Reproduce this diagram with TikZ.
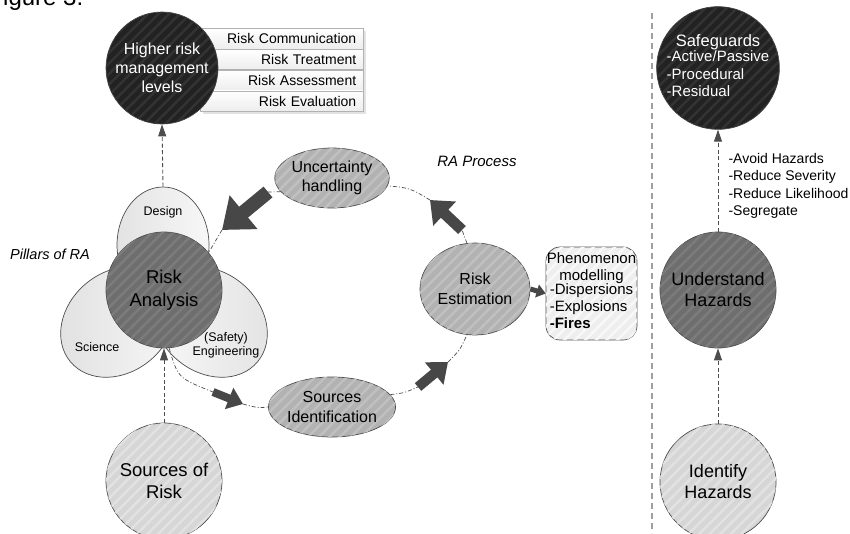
\documentclass[tikz,border=0pt]{standalone}
\usepackage{fontspec}
\setmainfont{Liberation Sans}
\usepackage{tikz}
\usetikzlibrary{arrows.meta,positioning,calc,patterns.meta,shapes.geometric,shadows}
\newcommand{\fsz}[2]{\fontsize{#1}{#2}\selectfont}
\definecolor{hrblack}{HTML}{222222}
\definecolor{hrblackst}{HTML}{333333}
\definecolor{hrdark}{HTML}{6E6E6E}
\definecolor{hrdarkst}{HTML}{7C7C7C}
\definecolor{hrmid}{HTML}{B2B2B2}
\definecolor{hrmidst}{HTML}{C0C0C0}
\definecolor{hrlight}{HTML}{D6D6D6}
\definecolor{hrlightst}{HTML}{E2E2E2}
\definecolor{hrbox}{HTML}{EEEEEE}
\definecolor{hrboxst}{HTML}{F8F8F8}
\definecolor{hrline}{HTML}{4D4D4D}
\definecolor{hrarrow}{HTML}{474747}
\tikzset{
  Hatch/.style={postaction={pattern={Lines[angle=45,distance=7.5pt,line width=2.5pt]},
                pattern color=#1}},
  Bigc/.style={circle, draw=hrline, line width=0.7pt, minimum size=116pt,
               inner sep=0pt, align=center},
  Ell/.style={ellipse, draw=hrline, line width=0.7pt, inner sep=0pt, align=center,
              fill=hrmid, Hatch=hrmidst, font=\fsz{16}{19.5}},
  Petal/.style={ellipse, draw=hrline, line width=0.7pt, inner sep=0pt},
  Row/.style={draw=gray!60, top color=white, bottom color=gray!14,
              minimum width=163pt, minimum height=20.5pt, inner xsep=7pt,
              inner ysep=0pt, text width=149pt, align=right, anchor=north west,
              font=\fsz{14}{16},
              drop shadow={shadow xshift=3pt, shadow yshift=-3pt, fill=gray!45}},
  Vdash/.style={-{Triangle[length=12pt,width=8pt]}, draw=hrline, line width=0.9pt,
                dash pattern=on 4pt off 2.5pt},
  Cyc/.style={draw=hrline, line width=0.7pt, dash pattern=on 4pt off 2pt on 1pt off 2pt},
  Blk/.style n args={3}{draw=hrarrow, line width=#1, -{Triangle[length=#2,width=#3]}}
}

\begin{document}
\begin{tikzpicture}[x=1pt, y=-1pt]
  \useasboundingbox (0,0) rectangle (850,533);
  \clip (0,0) rectangle (850,533);

  \node[anchor=base west, font=\fsz{24}{28}] (figcap) at (-15,5) {Figure 3.};

  % separator
  \draw[gray!75, line width=1.4pt, dash pattern=on 6pt off 4pt] (652,13) -- (652,533);

  % higher risk management levels
  \node[Row] (rcom) at (200,28) {Risk Communication};
  \node[Row, below=0pt of rcom] (rtrt) {Risk Treatment};
  \node[Row, below=0pt of rtrt] (rass) {Risk Assessment};
  \node[Row, below=0pt of rass] (reva) {Risk Evaluation};
  \node[Bigc, minimum size=112pt, fill=hrblack, Hatch=hrblackst, text=white,
        font=\fsz{16}{19}] (hrl) at (162,68) {Higher risk\\management\\levels};

  % pillars of RA
  \node[Petal, minimum width=92pt, minimum height=116pt,
        left color=gray!22, right color=gray!6] (petdes) at (163,245) {};
  \node[Petal, minimum width=124pt, minimum height=100pt, rotate=40,
        left color=gray!24, right color=gray!6] (petsci) at (118,322) {};
  \node[Petal, minimum width=124pt, minimum height=100pt, rotate=-40,
        left color=gray!5, right color=gray!22] (peteng) at (210,322) {};
  \node[font=\fsz{12.5}{15}] (ldes) at (163,212) {Design};
  \node[font=\fsz{12.5}{15}] (lsci) at (97,347) {Science};
  \node[font=\fsz{12.5}{14}, align=center] (leng) at (226,345) {(Safety)\\Engineering};
  \node[Bigc, fill=hrdark, Hatch=hrdarkst, font=\fsz{18.5}{22.5}] (ra) at (164,290)
    {Risk\\Analysis};
  \node[font=\fsz{14.5}{17}\itshape] (pill) at (50,254) {Pillars of RA};

  % RA process
  \node[Ell, minimum width=111pt, minimum height=60pt] (unc) at (332,178)
    {Uncertainty\\handling};
  \node[Ell, minimum width=110pt, minimum height=92pt] (riskest) at (475,289)
    {Risk\\Estimation};
  \node[Ell, minimum width=112pt, minimum height=60pt] (srcid) at (332,407)
    {Sources\\Identification};
  \node[font=\fsz{15}{18}\itshape] (proc) at (477,161) {RA Process};

  \coordinate (a1s) at (213,392); \coordinate (a1e) at (243,404);
  \coordinate (a2s) at (418,387); \coordinate (a2e) at (448,362);
  \coordinate (a3s) at (462,230); \coordinate (a3e) at (430,200);
  \coordinate (a4s) at (268,192); \coordinate (a4e) at (222,230);

  \draw[Cyc] (ra.-85) .. controls (178,378) .. (a1s);
  \draw[Cyc] (a1e) .. controls (258,408) .. (srcid.west);
  \draw[Cyc] (srcid.12) .. controls (404,393) .. (a2s);
  \draw[Cyc] (a2e) .. controls (460,350) .. (riskest.-100);
  \draw[Cyc] (riskest.100) -- (a3s);
  \draw[Cyc] (a3e) .. controls (410,188) .. (unc.-8);
  \draw[Cyc] (unc.195) -- (a4s);
  \draw[Cyc] (a4e) -- (ra.40);

  \draw[Blk={8pt}{15pt}{22pt}] (a1s) -- (a1e);
  \draw[Blk={10pt}{18pt}{28pt}] (a2s) -- (a2e);
  \draw[Blk={11pt}{20pt}{32pt}] (a3s) -- (a3e);
  \draw[Blk={14pt}{28pt}{42pt}] (a4s) -- (a4e);

  \node[draw=hrline, line width=0.7pt, rounded corners=14pt, fill=hrbox, Hatch=hrboxst,
        minimum width=91pt, minimum height=93pt, inner sep=0.5pt, align=center,
        font=\fsz{15}{17}] (phen) at (591.5,293.5)
    {Phenomenon\\modelling\\[-2pt]
     \begin{tabular}{@{}l@{}}-Dispersions\\-Explosions\\\textbf{-Fires}\end{tabular}};
  \draw[Blk={5pt}{9pt}{13pt}] (riskest.east) -- (phen.west);

  % sources of risk
  \node[Bigc, fill=hrlight, Hatch=hrlightst, font=\fsz{18.5}{22}] (srisk) at (164,481)
    {Sources of\\Risk};

  \draw[Vdash] (srisk.north) -- (ra.south);
  \draw[Vdash] (petdes.north) -- (hrl.south);

  % hazards
  \node[Bigc, fill=hrblack, Hatch=hrblackst, text=white] (safe) at (718,68)
    {{\fsz{16.5}{19}Safeguards}\\[-1pt]
     {\fsz{15}{17.5}\begin{tabular}{@{}l@{}}-Active/Passive\\-Procedural\\-Residual\end{tabular}}};
  \node[Bigc, fill=hrdark, Hatch=hrdarkst, font=\fsz{18}{21}] (undh) at (718,290)
    {Understand\\Hazards};
  \node[Bigc, fill=hrlight, Hatch=hrlightst, font=\fsz{18}{21}] (idh) at (718,482)
    {Identify\\Hazards};

  \draw[Vdash] (undh.north) -- (safe.south);
  \draw[Vdash] (idh.north) -- (undh.south);
  \node[anchor=west, align=left, font=\fsz{14}{17.5}] (mitig) at (725,186)
    {-Avoid Hazards\\-Reduce Severity\\-Reduce Likelihood\\-Segregate};
\end{tikzpicture}
\end{document}
